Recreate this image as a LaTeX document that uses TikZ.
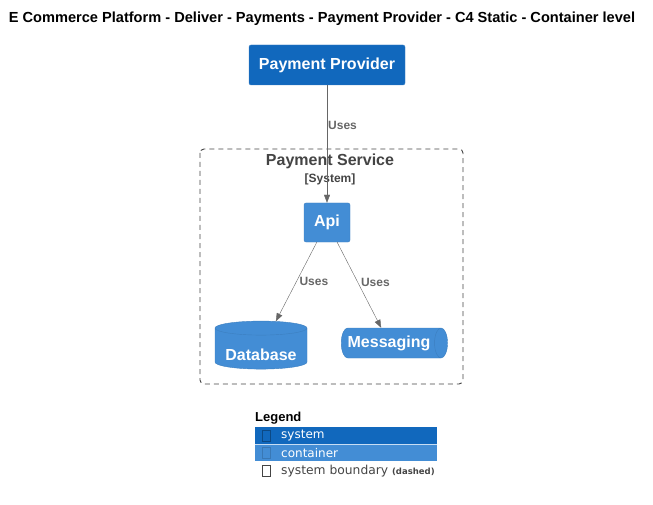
\documentclass[tikz,border=0pt]{standalone}
\usepackage{fontspec}
\setmainfont{Liberation Sans}
\newfontfamily\legendfont{DejaVu Sans}
\usetikzlibrary{shapes.geometric}
\usetikzlibrary{arrows.meta}
\definecolor{systemblue}{HTML}{1168BD}
\definecolor{systemline}{HTML}{3C7FC0}
\definecolor{containerblue}{HTML}{438DD5}
\definecolor{containerline}{HTML}{3C7FC0}
\definecolor{relgray}{HTML}{666666}
\definecolor{boundgray}{HTML}{444444}

\begin{document}
\begin{tikzpicture}[x=1pt,y=-1pt,
    system/.style={rectangle,rounded corners=2pt,fill=systemblue,draw=systemline,text=white,font=\fontsize{16}{18}\selectfont\bfseries},
    container/.style={rectangle,rounded corners=2pt,fill=containerblue,draw=containerline,text=white,font=\fontsize{16}{18}\selectfont\bfseries},
    rel/.style={draw=relgray,-{Triangle[length=8pt,width=6pt]}},
    rellabel/.style={text=relgray,font=\fontsize{12}{14}\selectfont\bfseries,inner sep=1pt}]
    \useasboundingbox (0,0) rectangle (653,505);
    \node[font=\fontsize{14.6}{17}\selectfont\bfseries] (title) at (322,19) {E Commerce Platform - Deliver - Payments - Payment Provider - C4 Static - Container level};
    % boundary
    \draw[draw=boundgray,line width=0.9pt,dash pattern=on 5pt off 4pt,rounded corners=4pt] (200,149) rectangle (463,384);
    \node[text=boundgray,font=\fontsize{16}{18}\selectfont\bfseries] (boundary) at (330,161) {Payment Service};
    \node[text=boundgray,font=\fontsize{12}{14}\selectfont\bfseries] (boundarytype) at (330,179) {[System]};
    % elements
    \node[system,minimum width=156pt,minimum height=40pt] (provider) at (327,65) {Payment Provider};
    \node[container,minimum width=46pt,minimum height=39pt] (api) at (327,222.5) {Api};
    \node[container,rounded corners=0pt,cylinder,shape border rotate=90,aspect=0.18,minimum width=92pt,minimum height=48pt,text height=21pt,text depth=0pt] (database) at (261,350) {Database};
    \node[container,rounded corners=0pt,cylinder,aspect=0.6,minimum width=30pt,minimum height=97pt,inner xsep=4pt] (messaging) at (389,343) {Messaging};
    % relations
    \draw[rel] (provider) -- (api) node[rellabel,pos=0.34,right] {Uses};
    \draw[rel] (api) -- (database) node[rellabel,pos=0.5,right=2pt] {Uses};
    \draw[rel] (api) -- (messaging) node[rellabel,pos=0.47,right=2pt] {Uses};
    % legend
    \node[anchor=west,font=\fontsize{13}{15}\selectfont\bfseries,inner sep=0pt] (legend) at (255,418) {Legend};
    \fill[systemblue] (255,427) rectangle (437,444);
    \fill[containerblue] (255,444) rectangle (437,461);
    \draw[white!70!containerblue] (255,444) -- (437,444);
    \draw[systemblue!70!black,line width=0.6pt] (262.5,430.5) rectangle (270.5,441.5);
    \draw[containerblue!85!black,line width=0.6pt] (262.5,447.5) rectangle (270.5,458.5);
    \draw[boundgray,line width=0.6pt] (262.5,465.5) rectangle (270.5,476.5);
    \node[anchor=west,text=white,font=\legendfont\fontsize{12}{14}\selectfont,inner sep=0pt] (legsystem) at (281,436) {system};
    \node[anchor=west,text=white,font=\legendfont\fontsize{12}{14}\selectfont,inner sep=0pt] (legcontainer) at (281,453) {container};
    \node[anchor=west,text=boundgray,font=\legendfont\fontsize{12.3}{14}\selectfont,inner sep=0pt] (legboundary) at (281,471) {system boundary {\bfseries\fontsize{8.5}{10}\selectfont (dashed)}};
\end{tikzpicture}
\end{document}
